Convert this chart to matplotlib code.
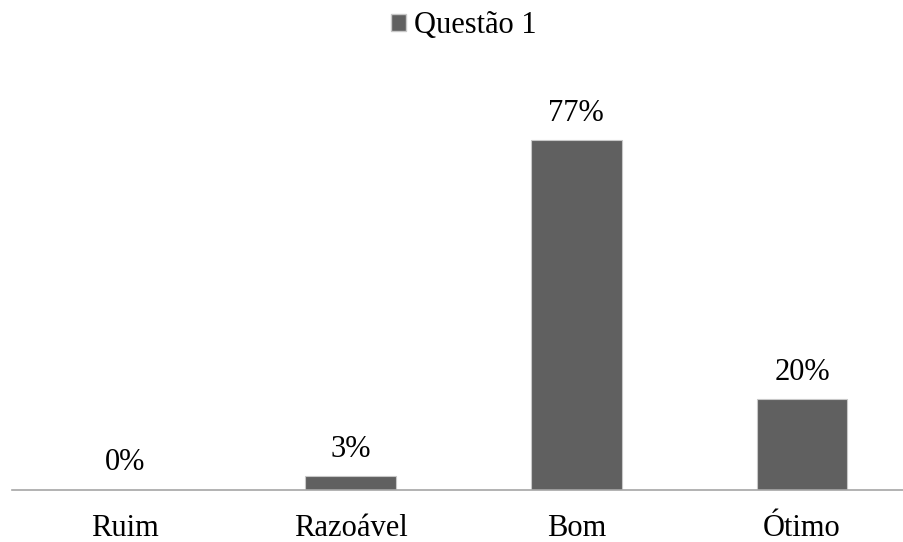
import numpy as np
import matplotlib.pyplot as plt
from matplotlib.patches import Patch

categories = ['Ruim', 'Razoável', 'Bom', 'Ótimo']
values = [0, 3, 77, 20]
labels = ['0%', '3%', '77%', '20%']
series_name = 'Questão 1'

plt.rcParams['font.family'] = ['Liberation Serif', 'DejaVu Serif']

fig = plt.figure(figsize=(9.04, 5.42), dpi=100)
ax = fig.add_axes([12 / 904, 1 - 490 / 542, 903 / 904, (490 - 81) / 542])

x = np.arange(len(categories))
ax.bar(x, values, width=0.4, color='#606060', edgecolor='#c8c8c8', linewidth=0.8)
for xi, v, lab in zip(x, values, labels):
    ax.annotate(lab, (xi, v), xytext=(0, 9), textcoords='offset points',
                ha='center', va='bottom', fontsize=22)

ax.set_xlim(-0.5, len(categories) - 0.5)
ax.set_ylim(0, 90)
ax.set_xticks(x)
ax.set_xticklabels(categories, fontsize=22)
ax.tick_params(axis='x', length=0, pad=17)
ax.set_yticks([])
for s in ['top', 'right', 'left']:
    ax.spines[s].set_visible(False)
ax.spines['bottom'].set_color('#a6a6a6')
ax.spines['bottom'].set_linewidth(1.2)

handle = Patch(facecolor='#606060', edgecolor='#c8c8c8', label=series_name)
fig.legend(handles=[handle], loc='upper center', bbox_to_anchor=(0.513, 1.03),
           frameon=False, fontsize=22, handlelength=0.5, handleheight=0.5,
           handletextpad=0.27)

fig.savefig('out.png', dpi=100)
